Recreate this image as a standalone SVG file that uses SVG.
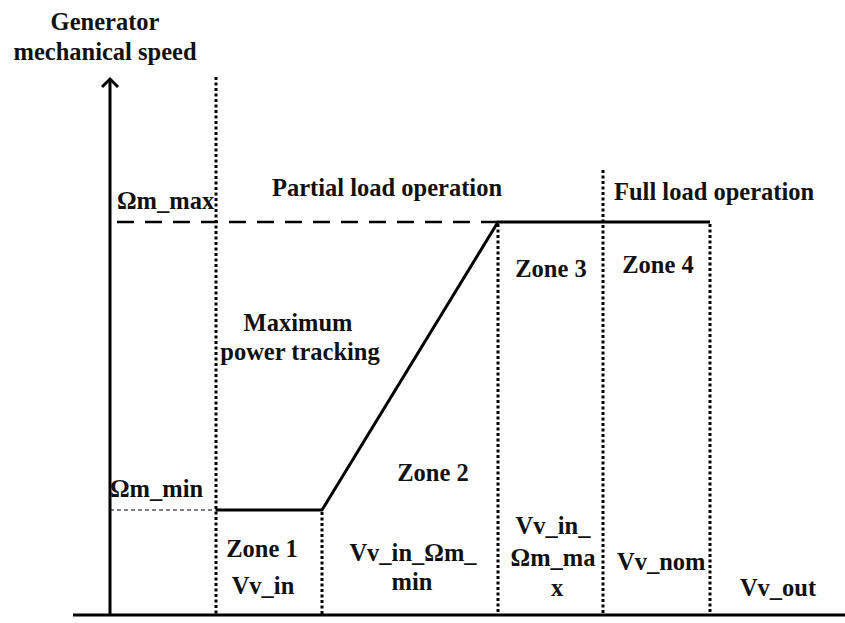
<svg xmlns="http://www.w3.org/2000/svg" width="845" height="623" viewBox="0 0 845 623">
<style>
text{font-family:"Liberation Serif","Times New Roman",serif;font-weight:bold;font-size:24.5px;fill:#111}
.m{text-anchor:middle}
.ax{stroke:#000;stroke-width:3;fill:none}
.dot{stroke:#000;stroke-width:3;stroke-dasharray:3 2.5;fill:none}
.sol{stroke:#000;stroke-width:3;fill:none}
.dash{stroke:#000;stroke-width:2.5;stroke-dasharray:17 11;fill:none}
.thin{stroke:#000;stroke-width:1.2;stroke-dasharray:4 3;fill:none}
</style>
<rect width="845" height="623" fill="#fff"/>
<g id="connectors">
<line class="ax" x1="73" y1="615" x2="845" y2="615"/>
<line class="ax" x1="110" y1="615" x2="110" y2="79"/>
<polyline class="ax" points="102,87 110,79 118,87" stroke-width="2.5"/>
<line class="dot" x1="216" y1="77" x2="216" y2="615"/>
<line class="dot" x1="322" y1="512" x2="322" y2="615"/>
<line class="dot" x1="498" y1="224" x2="498" y2="615"/>
<line class="dot" x1="603" y1="170" x2="603" y2="615"/>
<line class="dot" x1="710" y1="224" x2="710" y2="615"/>
<line class="dash" x1="117" y1="222" x2="498" y2="222"/>
<polyline class="sol" points="216,510 322,510 498,222 710,222"/>
<line class="thin" x1="110" y1="510" x2="216" y2="510"/>
</g>
<g id="labels">
<text class="m" x="105" y="30">Generator</text>
<text class="m" x="105" y="60">mechanical speed</text>
<text x="117" y="209">Ωm_max</text>
<text x="272" y="196">Partial load operation</text>
<text x="614" y="200">Full load operation</text>
<text class="m" x="551" y="277">Zone 3</text>
<text class="m" x="658" y="273">Zone 4</text>
<text class="m" x="298" y="331">Maximum</text>
<text class="m" x="300" y="360">power tracking</text>
<text class="m" x="433" y="481">Zone 2</text>
<text x="110" y="497">Ωm_min</text>
<text class="m" x="262" y="557">Zone 1</text>
<text class="m" x="263" y="594">Vv_in</text>
<text class="m" x="413" y="561">Vv_in_Ωm_</text>
<text class="m" x="412" y="590">min</text>
<text class="m" x="553" y="534">Vv_in_</text>
<text class="m" x="553" y="566">Ωm_ma</text>
<text class="m" x="557" y="596">x</text>
<text x="617" y="570">Vv_nom</text>
<text class="m" x="778" y="596">Vv_out</text>
</g>
</svg>
